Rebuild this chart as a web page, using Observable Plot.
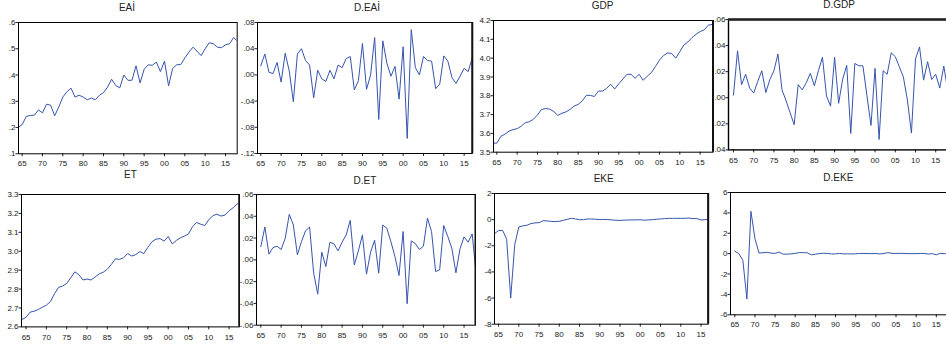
<!DOCTYPE html>
<html><head><meta charset="utf-8">
<script src="https://cdn.jsdelivr.net/npm/d3@7"></script>
<script src="https://cdn.jsdelivr.net/npm/@observablehq/plot@0.6"></script>
<style>
html,body{margin:0;padding:0;background:#fff;}
#chart{position:relative;width:946px;height:347px;overflow:hidden;background:#fff;font-family:"Liberation Sans",Arial,sans-serif;}
.wrap{position:absolute;overflow:hidden;}
.wrap svg{position:absolute;max-width:none !important;}
.title{position:absolute;font-size:10px;line-height:10px;color:#222;transform:translateX(-50%);white-space:nowrap;}
</style></head><body><div id="chart"></div>
<script>
const years = [1964,1965,1966,1967,1968,1969,1970,1971,1972,1973,1974,1975,1976,1977,1978,1979,1980,1981,1982,1983,1984,1985,1986,1987,1988,1989,1990,1991,1992,1993,1994,1995,1996,1997,1998,1999,2000,2001,2002,2003,2004,2005,2006,2007,2008,2009,2010,2011,2012,2013,2014,2015,2016,2017,2018];
const yearsD = years.slice(1);
const xTicks = [1965,1970,1975,1980,1985,1990,1995,2000,2005,2010,2015];
const xTickLabels = ["65","70","75","80","85","90","95","00","05","10","15"];

const eai = [.200,.211,.242,.246,.247,.267,.256,.289,.285,.245,
 .278,.316,.336,.350,.316,.323,.316,.306,.312,.306,
 .323,.333,.354,.384,.360,.351,.400,.380,.380,.435,
 .370,.422,.439,.437,.449,.413,.453,.359,.425,.439,
 .440,.465,.487,.506,.491,.474,.500,.523,.519,.506,
 .504,.515,.519,.543,.528];
const dEai = [.014,.032,.004,.002,.019,-.011,.033,.006,-.041,.032,
 .040,.022,.015,-.035,.007,-.006,-.010,.007,-.006,.015,
 .011,.025,.028,-.023,-.009,.048,-.022,.000,.057,-.068,
 .052,.018,-.002,.013,-.037,.043,-.097,.069,.011,.000,
 .028,.022,.021,-.021,-.014,.029,.021,-.004,-.013,-.002,
 .010,.005,.026,-.015];
const gdp = [3.548,3.548,3.584,3.596,3.612,3.620,3.625,3.638,3.657,3.662,
 3.675,3.698,3.727,3.732,3.729,3.716,3.696,3.707,3.714,3.727,
 3.745,3.754,3.773,3.802,3.802,3.796,3.825,3.825,3.839,3.861,
 3.836,3.864,3.889,3.914,3.914,3.893,3.914,3.882,3.904,3.923,
 3.955,3.989,4.014,4.027,4.025,4.000,4.034,4.070,4.086,4.109,
 4.127,4.141,4.150,4.175,4.180];
const dGdp = [.002,.036,.010,.018,.0074,.0036,.0125,.0207,.004,.014,
 .0207,.0335,.006,-.0023,-.0115,-.0207,.010,.006,.0115,.0187,
 .0092,.0207,.031,.0013,-.0064,.031,-.0043,.0143,.0248,-.0274,
 .0263,.0245,.0245,.0015,-.0212,.0225,-.032,.0207,.018,.0345,
 .0315,.0238,.016,-.0018,-.027,.0297,.039,.0135,.0276,.014,
 .018,.0074,.0243,.005];
const et = [2.639,2.651,2.678,2.683,2.692,2.704,2.715,2.734,2.775,2.809,
 2.816,2.830,2.859,2.891,2.876,2.848,2.853,2.848,2.864,2.880,
 2.889,2.905,2.930,2.960,2.957,2.965,2.988,2.975,2.982,2.998,
 2.988,3.021,3.050,3.064,3.067,3.053,3.078,3.039,3.057,3.071,
 3.080,3.091,3.130,3.152,3.143,3.136,3.166,3.188,3.196,3.186,
 3.191,3.214,3.230,3.251,3.242];
const dEt = [.0122,.0302,.0052,.0113,.0125,.0095,.0198,.0418,.032,.0046,
 .0168,.0266,.0302,-.0122,-.0315,.007,-.0061,.0162,.0147,.0082,
 .0162,.0229,.0363,-.0046,.0082,.0229,-.0131,.007,.018,-.0122,
 .032,.029,.0168,.003,-.0143,.026,-.0403,.0174,.015,.0095,
 .0125,.0382,.026,-.0107,-.0092,.0315,.0214,.0107,-.0119,.0101,
 .0211,.0162,.0238,-.0137];
const eke = [-1.07,-0.84,-0.82,-1.50,-6.00,-1.90,-0.56,-0.48,-0.43,-0.30,
 -0.25,-0.23,-0.08,-0.10,-0.13,-0.15,-0.13,-0.05,0.03,0.10,
 0.05,0.00,0.00,0.05,0.05,0.03,0.00,0.02,0.00,-0.02,
 -0.05,-0.06,-0.04,-0.03,-0.02,-0.02,-0.01,-0.04,-0.02,0.00,
 0.03,0.05,0.08,0.10,0.10,0.10,0.10,0.10,0.12,0.08,
 0.08,-0.03,0.00,0.00,0.00];
const dEke = [0.25,0.00,-0.67,-4.45,4.15,1.47,0.06,0.09,0.13,0.05,
 0.03,0.15,-0.05,-0.05,-0.02,0.03,0.10,0.10,0.08,-0.12,
 -0.05,0.00,0.04,0.02,-0.03,-0.02,0.02,-0.02,-0.02,-0.03,
 -0.01,0.02,0.01,0.01,0.00,0.01,-0.03,0.02,0.10,0.03,
 0.02,0.03,0.02,0.00,0.00,0.00,0.01,0.02,-0.04,0.00,
 -0.11,0.03,0.00,0.00];

const eaiTicks = [.1,.2,.3,.4,.5,.6];
const eaiTickLabels = [".1",".2",".3",".4",".5",".6"];
const dEaiTicks = [-.12,-.08,-.04,0,.04,.08];
const dEaiTickLabels = ["-.12","-.08","-.04",".00",".04",".08"];
const gdpTicks = [3.5,3.6,3.7,3.8,3.9,4.0,4.1,4.2];
const gdpTickLabels = ["3.5","3.6","3.7","3.8","3.9","4.0","4.1","4.2"];
const dGdpTicks = [-.04,-.02,0,.02,.04,.06];
const dGdpTickLabels = ["-.04","-.02",".00",".02",".04",".06"];
const etTicks = [2.6,2.7,2.8,2.9,3.0,3.1,3.2,3.3];
const etTickLabels = ["2.6","2.7","2.8","2.9","3.0","3.1","3.2","3.3"];
const dEtTicks = [-.06,-.04,-.02,0,.02,.04,.06];
const dEtTickLabels = ["-.06","-.04","-.02",".00",".02",".04",".06"];
const ekeTicks = [-8,-6,-4,-2,0,2];
const ekeTickLabels = ["-8","-6","-4","-2","0","2"];
const dEkeTicks = [-6,-4,-2,0,2,4,6];
const dEkeTickLabels = ["-6","-4","-2","0","2","4","6"];

const chart = document.getElementById("chart");
const LINE = "#3553ad";

function panel(o) {
  const mL = 24, mR = 3, mT = 3, mB = 16;
  const w = o.FR - o.FL, h = o.FB - o.FT;
  const x1 = o.x0 + w / o.ppy;
  const data = o.t.map((t, i) => ({t, v: o.v[i]}));
  const yMin = o.yTicks[0], yMax = o.yTicks[o.yTicks.length - 1];
  const marks = [
    Plot.axisX({ticks: xTicks, tickFormat: d => xTickLabels[xTicks.indexOf(d)], tickSize: 3, tickPadding: 4, label: null}),
    Plot.axisY({ticks: o.yTicks, tickFormat: d => o.yLabels[o.yTicks.indexOf(d)], tickSize: 2.5, tickPadding: 0.5, label: null}),
    Plot.line(data, {x: "t", y: "v", stroke: LINE, strokeWidth: 1, clip: true}),
    Plot.frame({stroke: "#000", strokeWidth: o.frameW || 1})
  ];
  if (o.thickRight) marks.push(Plot.ruleX([x1], {y1: yMin, y2: yMax, stroke: "#111", strokeWidth: 2}));
  if (o.thickTop) marks.push(Plot.ruleY([yMax], {stroke: "#222", strokeWidth: 2.5}));
  const W = w + mL + mR, H = h + mT + mB;
  const svg = Plot.plot({
    width: W, height: H,
    marginLeft: mL, marginRight: mR, marginTop: mT, marginBottom: mB,
    style: {fontSize: "8px", fontFamily: "Liberation Sans, Arial, sans-serif", color: "#222", background: "transparent", overflow: "visible", maxWidth: "none"},
    x: {type: "linear", domain: [o.x0, x1]},
    y: {type: "linear", domain: [yMin, yMax]},
    marks
  });
  svg.style.maxWidth = "none";
  svg.style.width = W + "px";
  svg.style.height = H + "px";
  const wrap = document.createElement("div");
  wrap.className = "wrap";
  wrap.style.left = o.cL + "px";
  wrap.style.width = (o.cR - o.cL) + "px";
  wrap.style.top = o.cT + "px";
  wrap.style.height = o.cH + "px";
  svg.style.left = (o.FL - mL - o.cL) + "px";
  svg.style.top = (o.FT - mT - o.cT) + "px";
  wrap.appendChild(svg);
  chart.appendChild(wrap);
  const tt = document.createElement("div");
  tt.className = "title";
  tt.textContent = o.title;
  tt.style.left = o.tx + "px";
  tt.style.top = (o.ty - 8.5) + "px";
  chart.appendChild(tt);
}

panel({title: "EAİ", t: years, v: eai, yTicks: eaiTicks, yLabels: eaiTickLabels,
  FL: 18.3, FR: 237, FT: 22, FB: 153.3, x0: 1964.1, ppy: 4.067, cL: 0, cR: 239, cT: 0, cH: 170,
  tx: 127, ty: 11, thickRight: false});
panel({title: "D.EAİ", t: yearsD, v: dEai, yTicks: dEaiTicks, yLabels: dEaiTickLabels,
  FL: 256.7, FR: 471.5, FT: 21.7, FB: 152.7, x0: 1964.19, ppy: 4.067, cL: 239, cR: 475, cT: 0, cH: 170,
  tx: 367, ty: 11, thickRight: true});
panel({title: "GDP", t: years, v: gdp, yTicks: gdpTicks, yLabels: gdpTickLabels,
  FL: 493, FR: 712.5, FT: 20, FB: 151.7, x0: 1964.19, ppy: 4.067, cL: 475, cR: 713.5, cT: 0, cH: 170,
  tx: 602.5, ty: 9.3, thickRight: true});
panel({title: "D.GDP", t: yearsD, v: dGdp, yTicks: dGdpTicks, yLabels: dGdpTickLabels,
  FL: 728.3, FR: 990, FT: 19.3, FB: 149.7, x0: 1963.77, ppy: 4.045, cL: 713.5, cR: 946, cT: 0, cH: 170,
  tx: 839, ty: 8, thickTop: true, frameW: 1.4});
panel({title: "ET", t: years, v: et, yTicks: etTicks, yLabels: etTickLabels,
  FL: 20.7, FR: 238.5, FT: 194.3, FB: 326.7, x0: 1963.87, ppy: 4.06, cL: 0, cR: 239.5, cT: 168, cH: 179,
  tx: 130.5, ty: 178.3, thickRight: true});
panel({title: "D.ET", t: yearsD, v: dEt, yTicks: dEtTicks, yLabels: dEtTickLabels,
  FL: 256, FR: 475, FT: 194.3, FB: 325, x0: 1963.94, ppy: 4.065, cL: 239.5, cR: 476, cT: 168, cH: 179,
  tx: 365, ty: 184, thickRight: true});
panel({title: "EKE", t: years, v: eke, yTicks: ekeTicks, yLabels: ekeTickLabels,
  FL: 494.3, FR: 708, FT: 193.3, FB: 324, x0: 1964.0, ppy: 4.05, cL: 476, cR: 709.5, cT: 168, cH: 179,
  tx: 603.7, ty: 182.3, thickRight: true});
panel({title: "D.EKE", t: yearsD, v: dEke, yTicks: dEkeTicks, yLabels: dEkeTickLabels,
  FL: 730, FR: 990, FT: 191.7, FB: 314, x0: 1963.93, ppy: 4.03, cL: 709.5, cR: 946, cT: 168, cH: 179,
  tx: 838.3, ty: 181});
</script></body></html>
